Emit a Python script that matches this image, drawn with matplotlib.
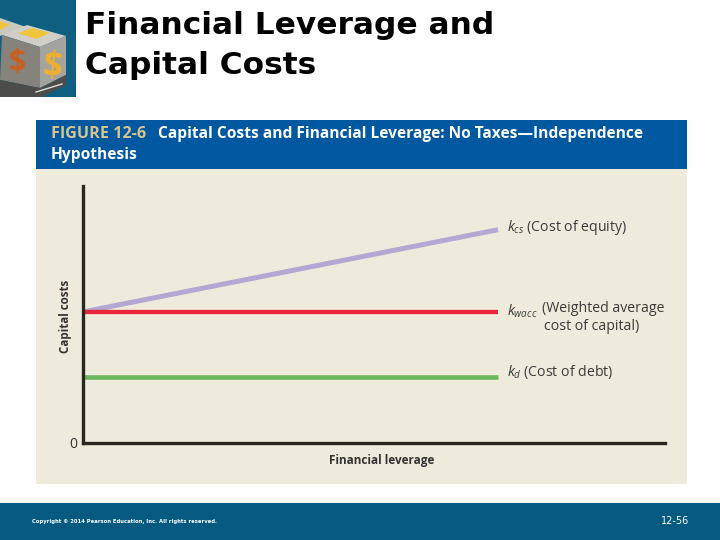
import matplotlib
matplotlib.use("Agg")
import matplotlib.pyplot as plt
from matplotlib.patches import Polygon, Rectangle

# values, axes run 0-100 both ways
leverage = [0, 71.3]
cost_equity = [51, 83]
cost_wacc = [51, 51]
cost_debt = [25.5, 25.5]

title_lines = ["Financial Leverage and", "Capital Costs"]
fig_no = "FIGURE 12-6"
fig_title = ["Capital Costs and Financial Leverage: No Taxes\u2014Independence", "Hypothesis"]
copyright_txt = "Copyright \u00a9 2014 Pearson Education, Inc. All rights reserved."
page_no = "12-56"

plt.rcParams['font.family'] = ['Open Sans', 'DejaVu Sans']
plt.rcParams['mathtext.fontset'] = 'custom'
plt.rcParams['mathtext.it'] = 'Open Sans:italic'
plt.rcParams['mathtext.rm'] = 'Open Sans'

fig = plt.figure(figsize=(7.2, 5.4), dpi=100)

# background layer in pixels
bg = fig.add_axes([0, 0, 1, 1])
bg.set_xlim(0, 720)
bg.set_ylim(540, 0)
bg.axis('off')
bg.add_patch(Rectangle((36, 168), 651, 316, color='#eeebdd', lw=0))
bg.add_patch(Rectangle((36, 120), 651, 48.5, color='#0058a0', lw=0))
bg.add_patch(Rectangle((0, 503), 720, 37, color='#045a80', lw=0))

# corner picture, dollar cubes
bg.add_patch(Rectangle((0, 0), 76, 97, color='#0e5f80', lw=0))
bg.add_patch(Polygon([[0, 18], [26, 27], [0, 36]], color='#c9c8bd', lw=0))
bg.add_patch(Polygon([[2, 35], [27, 25], [66, 36], [40, 47]], color='#cfcfc8', lw=0))
bg.add_patch(Polygon([[2, 35], [40, 47], [40, 88], [0, 80]], color='#85837c', lw=0))
bg.add_patch(Polygon([[40, 47], [66, 36], [66, 75], [40, 88]], color='#a3a3a0', lw=0))
bg.add_patch(Polygon([[0, 80], [40, 88], [66, 75], [66, 85], [42, 97], [0, 97]], color='#4c4c4a', lw=0))
bg.add_patch(Polygon([[18, 33], [32, 28], [50, 33], [36, 39]], color='#eec53a', lw=0))
bg.add_patch(Polygon([[0, 21], [10, 25], [0, 30]], color='#eec53a', lw=0))
bg.plot([36, 62], [92, 84], color='#dddddd', lw=1)
bg.text(52, 68, "$", color='#eeb030', fontsize=25, fontweight='bold', ha='center', va='center', rotation=-5)
bg.text(17, 63, "$", color='#c8611f', fontsize=22, fontweight='bold', ha='center', va='center')

bg.text(85, 26, title_lines[0], fontsize=22.5, fontweight='bold', family='DejaVu Sans', color='black', va='center', ha='left')
bg.text(85, 66, title_lines[1], fontsize=22.5, fontweight='bold', family='DejaVu Sans', color='black', va='center', ha='left')

bg.text(51, 134, fig_no, fontsize=11.6, fontweight='bold', color='#d9c58c', va='center')
bg.text(158, 134, fig_title[0], fontsize=11.2, fontweight='bold', color='white', va='center')
bg.text(51, 155, fig_title[1], fontsize=11.2, fontweight='bold', color='white', va='center')

bg.text(32, 521, copyright_txt, fontsize=3.8, fontweight='bold', family='DejaVu Sans', color='white', va='center')
bg.text(661, 521, page_no, fontsize=7, family='DejaVu Sans', color='white', va='center')

# the chart itself
ax = fig.add_axes([83 / 720, (540 - 443) / 540, 582 / 720, 257 / 540])
ax.patch.set_alpha(0)
ax.set_xlim(0, 100)
ax.set_ylim(0, 100)
for s in ['top', 'right']:
    ax.spines[s].set_visible(False)
for s in ['left', 'bottom']:
    ax.spines[s].set_linewidth(2.4)
    ax.spines[s].set_color('#2a2620')
ax.set_xticks([])
ax.set_yticks([0])
ax.set_yticklabels(['0'], fontsize=10, color='#333333')
ax.tick_params(axis='y', length=0, pad=4)

ax.plot(leverage, cost_equity, color='#b3a7d3', lw=3.6, solid_capstyle='butt')
ax.plot(leverage, cost_wacc, color='#e8273a', lw=3.1, solid_capstyle='butt')
ax.plot(leverage, cost_debt, color='#6cb85c', lw=3.3, solid_capstyle='butt')

ax.set_xlabel("Financial leverage", fontsize=8.5, fontweight='bold', color='#333333', labelpad=8, x=0.514)
ax.set_ylabel("Capital costs", fontsize=8.4, fontweight='bold', color='#333333', labelpad=-2, y=0.494)

lab = dict(fontsize=10.2, color='#3a3a3a', va='center', ha='left')
ax.text(72.9, 84, r"$k_{cs}$ (Cost of equity)", **lab)
ax.text(72.9, 51.2, r"$k_{wacc}$", **lab)
ax.text(78.9, 52.5, "(Weighted average", **lab)
ax.text(79.2, 45.5, "cost of capital)", **lab)
ax.text(72.9, 27.6, r"$k_d$ (Cost of debt)", **lab)

fig.savefig("out.png", dpi=100)
